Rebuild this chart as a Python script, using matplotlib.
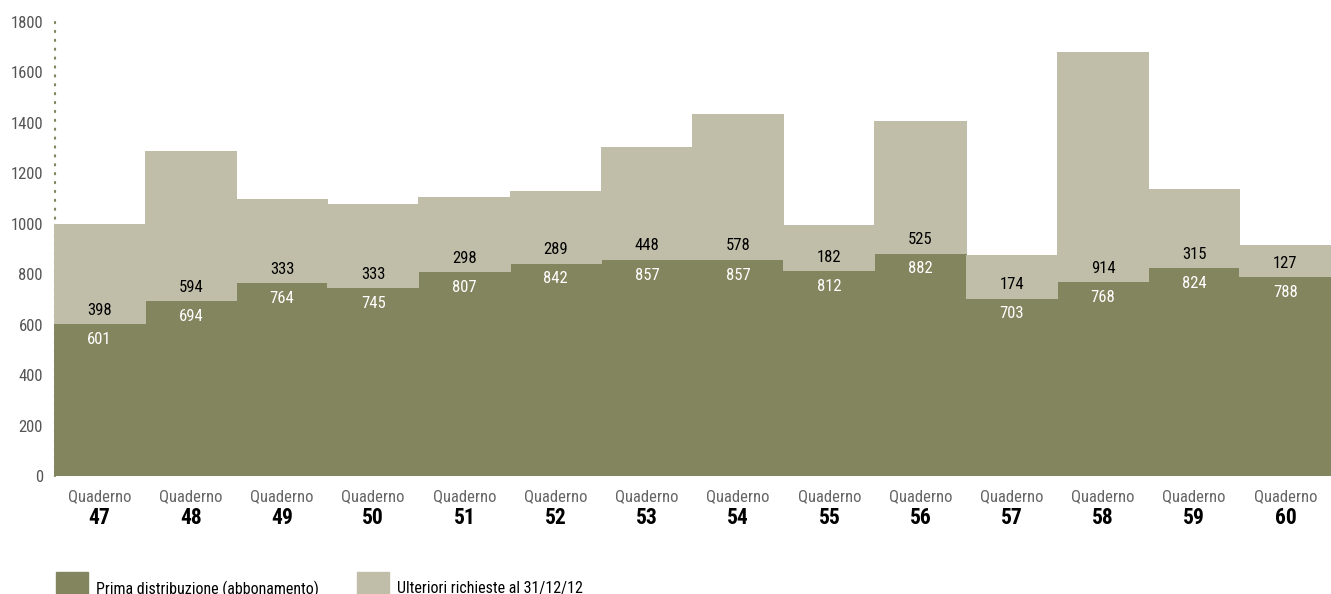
import numpy as np
import matplotlib.pyplot as plt
from matplotlib.patches import Rectangle

plt.rcParams['font.family'] = ['Roboto Condensed', 'DejaVu Sans']

# Data
quaderni = ['47', '48', '49', '50', '51', '52', '53', '54', '55', '56', '57', '58', '59', '60']
prima = [601, 694, 764, 745, 807, 842, 857, 857, 812, 882, 703, 768, 824, 788]
ulteriori = [398, 594, 333, 333, 298, 289, 448, 578, 182, 525, 174, 914, 315, 127]
yticks = [0, 200, 400, 600, 800, 1000, 1200, 1400, 1600, 1800]

dark = '#83855e'
light = '#c0bea9'

fig = plt.figure(figsize=(13.31, 5.94), dpi=100)
ax = fig.add_axes([54 / 1331, 1 - 476 / 594, 1277 / 1331, 454 / 594])

x = np.arange(len(quaderni))
# slightly wider than 1 so neighbouring bars don't leave a hairline gap
ax.bar(x, prima, width=1.01, color=dark, linewidth=0, zorder=2)
ax.bar(x, ulteriori, width=1.01, bottom=prima, color=light, linewidth=0, zorder=2)

for i in range(len(x)):
    ax.annotate(str(prima[i]), (x[i], prima[i]), xytext=(0, -11), textcoords='offset points',
                ha='center', va='center', color='white', fontsize=12, zorder=3)
    ax.annotate(str(ulteriori[i]), (x[i], prima[i]), xytext=(0, 10), textcoords='offset points',
                ha='center', va='center', color='black', fontsize=12, zorder=3)

ax.set_xlim(-0.5, len(x) - 0.5)
ax.set_ylim(0, 1800)
ax.set_yticks(yticks)
ax.set_yticklabels([str(v) for v in yticks], color='#555555', fontsize=12)
ax.tick_params(axis='y', length=0, pad=8)
ax.tick_params(axis='x', length=0)
ax.set_xticks(x)
ax.set_xticklabels([])
for s in ['top', 'right', 'bottom', 'left']:
    ax.spines[s].set_visible(False)
# dotted y axis line
ax.plot([-0.49, -0.49], [1800, 0], linestyle=(0, (0.5, 3.5)), color=dark, linewidth=1.6,
        dash_capstyle='round', zorder=1, clip_on=False)

# x labels
for i in range(len(x)):
    ax.text(x[i], -80, 'Quaderno', ha='center', va='center', color='#666666', fontsize=12)
    ax.text(x[i], -168, quaderni[i], ha='center', va='center', color='black',
            fontsize=15.5, fontweight='bold')

# legend
fig.patches.append(Rectangle((56 / 1331, 0), 32 / 1331, 22 / 594, transform=fig.transFigure,
                             color=dark, figure=fig))
fig.text(96 / 1331, 5 / 594, 'Prima distribuzione (abbonamento)', fontsize=11.5, va='center', color='black')
fig.patches.append(Rectangle((357 / 1331, 0), 32 / 1331, 22 / 594, transform=fig.transFigure,
                             color=light, figure=fig))
fig.text(397 / 1331, 5 / 594, 'Ulteriori richieste al 31/12/12', fontsize=11.5, va='center', color='black')

fig.savefig('out.png', dpi=100)
